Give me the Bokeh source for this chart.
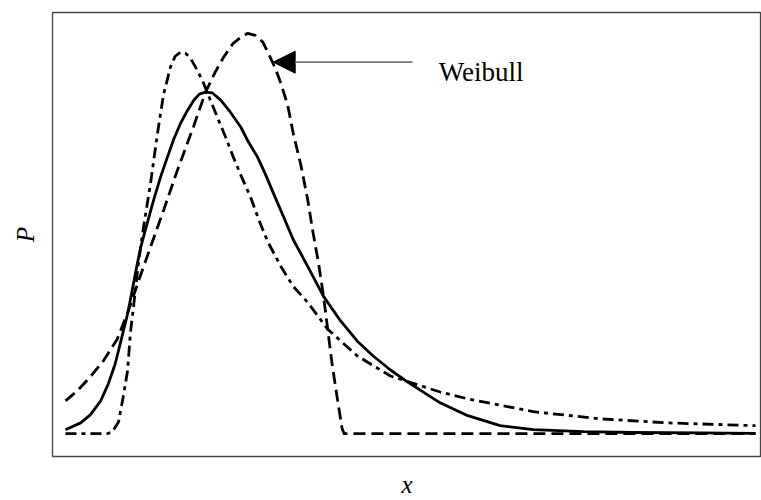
import math
from bokeh.plotting import figure
from bokeh.models import Label, Arrow, NormalHead, Range1d, FixedTicker
from bokeh.embed import file_html
from bokeh.resources import INLINE

# ---- data (arbitrary units) ----
weibull_x = [0.00, 0.17, 0.36, 0.55, 0.75, 0.91, 1.06, 1.23, 1.42, 1.62, 1.86, 2.03, 2.17, 2.29,
             2.43, 2.54, 2.64, 2.75, 2.86, 2.94, 3.04, 3.12, 3.22, 3.30, 3.41, 3.51, 3.58, 3.67,
             3.74, 3.86, 3.94, 4.01, 4.04, 10.00]
weibull_y = [0.082, 0.107, 0.142, 0.182, 0.236, 0.306, 0.382, 0.465, 0.557, 0.657, 0.769, 0.853,
             0.903, 0.940, 0.975, 0.990, 1.000, 0.995, 0.978, 0.950, 0.913, 0.876, 0.821, 0.751,
             0.672, 0.585, 0.510, 0.423, 0.343, 0.179, 0.087, 0.012, 0.000, 0.000]

solid_x = [0.00, 0.22, 0.36, 0.51, 0.62, 0.72, 0.81, 0.90, 0.97, 1.03, 1.09, 1.16, 1.28, 1.38,
           1.48, 1.57, 1.67, 1.77, 1.86, 1.94, 2.03, 2.13, 2.25, 2.39, 2.54, 2.65, 2.78, 2.90,
           3.01, 3.16, 3.30, 3.51, 3.74, 3.99, 4.23, 4.46, 4.71, 4.96, 5.22, 5.43, 5.83, 6.30,
           6.78, 7.51, 8.23, 9.20, 10.00]
solid_y = [0.010, 0.027, 0.047, 0.082, 0.124, 0.174, 0.236, 0.299, 0.361, 0.415, 0.465, 0.510,
           0.585, 0.642, 0.692, 0.736, 0.776, 0.808, 0.833, 0.848, 0.853, 0.851, 0.833, 0.803,
           0.766, 0.729, 0.692, 0.647, 0.602, 0.542, 0.485, 0.418, 0.343, 0.281, 0.231, 0.194,
           0.159, 0.129, 0.100, 0.077, 0.045, 0.020, 0.010, 0.005, 0.003, 0.002, 0.001]

dashdot_x = [0.00, 0.61, 0.68, 0.77, 0.84, 0.90, 0.94, 0.99, 1.06, 1.13, 1.23, 1.33, 1.42, 1.52,
             1.59, 1.67, 1.74, 1.81, 1.91, 2.00, 2.10, 2.20, 2.32, 2.43, 2.55, 2.68, 2.80, 2.93,
             3.12, 3.30, 3.51, 3.80, 4.23, 4.71, 5.43, 5.83, 6.78, 7.75, 8.72, 10.00]
dashdot_y = [0.000, 0.000, 0.005, 0.030, 0.095, 0.157, 0.249, 0.323, 0.430, 0.515, 0.622, 0.746,
             0.846, 0.915, 0.943, 0.953, 0.950, 0.938, 0.908, 0.876, 0.833, 0.791, 0.741, 0.692,
             0.642, 0.592, 0.535, 0.480, 0.418, 0.368, 0.328, 0.261, 0.194, 0.144, 0.104, 0.087,
             0.055, 0.037, 0.027, 0.020]

x_label = "x"
y_label = "P"
annot_text = "Weibull"

FONT = "Liberation Serif"

p = figure(width=761, height=500, output_backend="svg", toolbar_location=None,
           x_range=Range1d(-0.188, 10.087), y_range=Range1d(-0.057, 1.052),
           min_border_left=52, min_border_right=0, min_border_top=12, min_border_bottom=42)
p.xgrid.grid_line_color = None
p.ygrid.grid_line_color = None
p.outline_line_color = "#444444"
p.outline_line_width = 1.3
p.background_fill_color = "white"
p.border_fill_color = "white"

for ax in (p.xaxis[0], p.yaxis[0]):
    ax.ticker = FixedTicker(ticks=[])
    ax.axis_line_color = None
    ax.major_tick_line_color = None
    ax.minor_tick_line_color = None
    ax.major_tick_out = 0
    ax.minor_tick_out = 0
    ax.major_label_text_font_size = "0px"
    ax.major_label_standoff = 0
    ax.axis_label_text_font = FONT
    ax.axis_label_text_font_size = "25px"
    ax.axis_label_text_font_style = "italic"
    ax.axis_label_text_color = "black"
p.xaxis[0].axis_label = x_label
p.yaxis[0].axis_label = y_label
p.xaxis[0].axis_label_standoff = 14
p.yaxis[0].axis_label_standoff = 14

LW = 2.8
p.line(solid_x, solid_y, line_color="black", line_width=LW, line_join="round")
p.line(dashdot_x, dashdot_y, line_color="black", line_width=LW, line_dash="11 5 4 5",
       line_join="round")
p.line(weibull_x, weibull_y, line_color="black", line_width=LW, line_dash="12 6",
       line_join="round")

p.add_layout(Arrow(x_start=5.03, y_start=0.928, x_end=3.01, y_end=0.928,
                   line_color="#777777", line_width=1.6,
                   end=NormalHead(size=22, fill_color="black", line_color="black", line_width=1)))
p.add_layout(Label(x=5.41, y=0.903, text=annot_text, text_font=FONT, text_font_size="27px",
                   text_color="black", text_align="left", text_baseline="alphabetic"))

open("out.html", "w").write(file_html(p, INLINE))
